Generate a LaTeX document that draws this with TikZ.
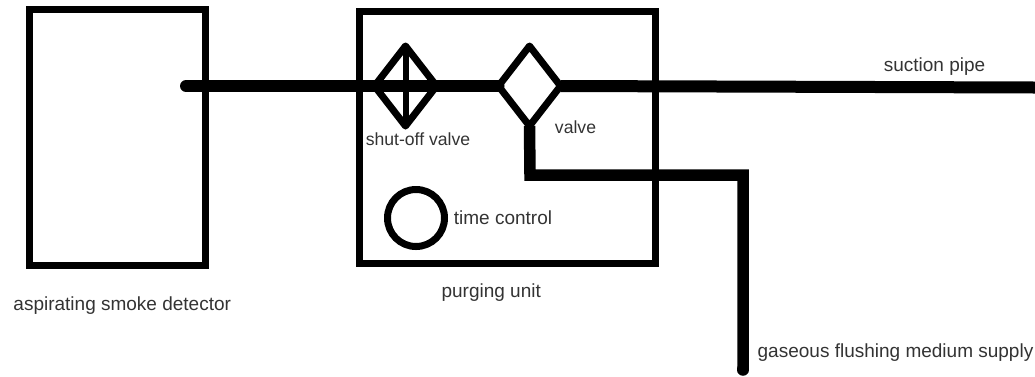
\documentclass[tikz,border=0pt]{standalone}
\usepackage{fontspec}
\setmainfont{Liberation Sans}
\usetikzlibrary{shapes,arrows}
\definecolor{inktext}{HTML}{333333}
\tikzstyle{block} = [rectangle, draw, line width=7pt, inner sep=0pt, outer sep=0pt]
\tikzstyle{valvebox} = [diamond, draw, line width=7pt, line join=round, inner sep=0pt, outer sep=0pt,
    minimum width=62pt, minimum height=80pt]
\tikzstyle{timer} = [circle, draw, line width=7pt, inner sep=0pt, outer sep=0pt, minimum size=57pt]
\tikzstyle{tag} = [text=inktext, inner sep=0pt, font=\fontsize{19}{22}\selectfont]
\tikzstyle{smalltag} = [text=inktext, inner sep=0pt, font=\fontsize{17.6}{22}\selectfont]
\tikzstyle{line} = [draw, line width=12pt]
\tikzstyle{supply} = [draw, line width=11.5pt, line join=miter]

\begin{document}
\begin{tikzpicture}[x=1pt, y=-1pt]
    \useasboundingbox (0,0) rectangle (1035,376);

    \node [block, minimum width=175.5pt, minimum height=255.5pt] (detector) at (117.25,137.25) {};
    \node [block, right of=detector, node distance=390pt, minimum width=295.5pt, minimum height=252pt] (purge) {};
    \node [valvebox] (shutoff) at (405.5,86) {};
    \node [valvebox, right of=shutoff, node distance=124pt] (valve) {};
    \node [timer] (timecontrol) at (416,218) {};

    \coordinate (port) at (186,86);
    \coordinate (pipeend) at (1035,87.5);
    \coordinate (elbow) at (530,175);
    \coordinate (riser) at (743,175);
    \coordinate (supplyend) at (743,369);

    \node [tag, below of=detector, node distance=168pt, xshift=5pt] (detectorlabel) {aspirating smoke detector};
    \node [tag, below of=purge, node distance=155.5pt, xshift=-16pt] (purgelabel) {purging unit};
    \node [smalltag, below of=shutoff, node distance=53pt, xshift=12.5pt] (shutofflabel) {shut-off valve};
    \node [smalltag, right of=valve, node distance=46pt, yshift=-41pt] (valvelabel) {valve};
    \node [tag, right of=timecontrol, node distance=87pt] (timelabel) {time control};
    \node [tag] (pipelabel) at (934.5,67) {suction pipe};
    \node [tag] (supplylabel) at (895.5,353) {gaseous flushing medium supply};

    \path [line, line cap=round] (port) -- (valve.west);
    \path [line] (valve.east) -- (pipeend);
    \path [draw, line width=6pt] (shutoff.north) -- (shutoff.south);
    \path [supply] (valve.south) -- (elbow) -- (riser) -- (supplyend);
    \path [draw, line width=11.5pt, line cap=round] (supplyend) -- +(0,1);

\end{tikzpicture}
\end{document}
